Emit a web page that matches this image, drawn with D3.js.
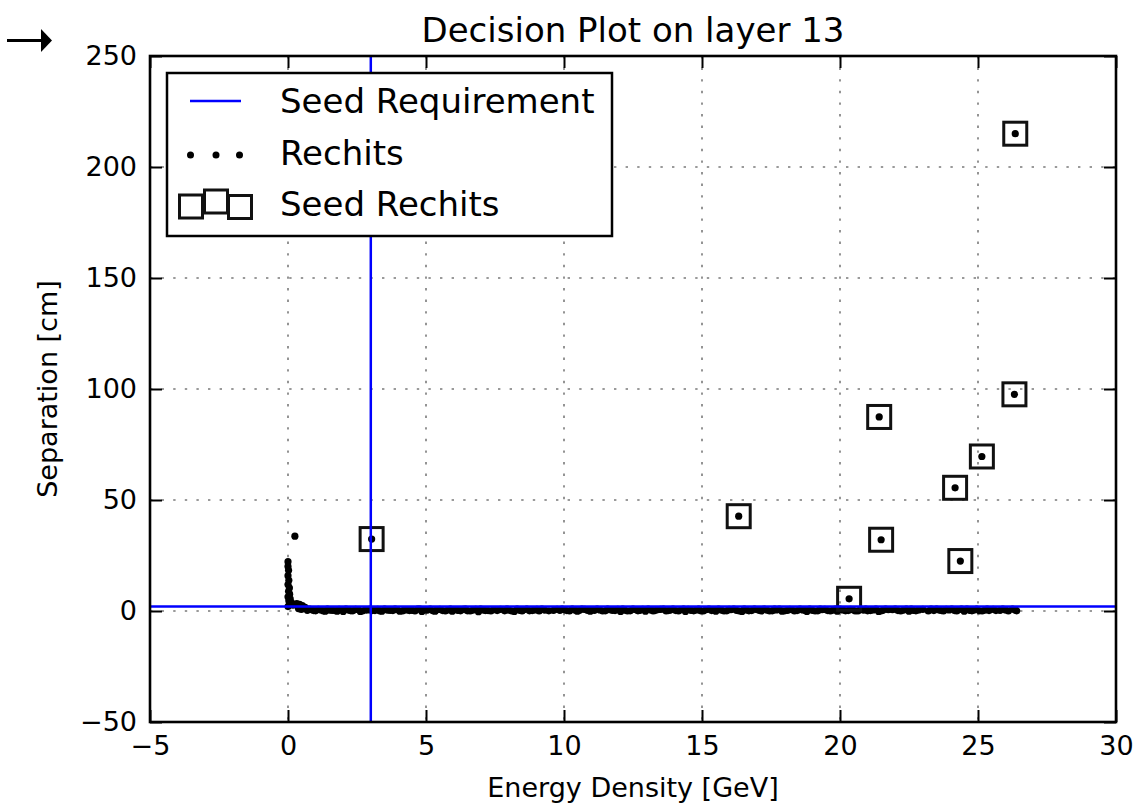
<!DOCTYPE html>
<html><head><meta charset="utf-8">
<script src="https://cdn.jsdelivr.net/npm/d3@7"></script>
<style>body{margin:0;background:#fff} svg{display:block} text{font-family:"DejaVu Sans",sans-serif;fill:#000}</style>
</head><body><svg id="c" width="1141" height="805"></svg>
<script>
// ---- data ----
const xTicks = [-5, 0, 5, 10, 15, 20, 25, 30];
const yTicks = [-50, 0, 50, 100, 150, 200, 250];
const seedThresholdX = 3;     // vertical "Seed Requirement"
const seedThresholdY = 2;     // horizontal "Seed Requirement"
const seedX = [3.03, 16.33, 20.33, 21.42, 21.49, 24.17, 24.36, 25.14, 26.32, 26.35];
const seedY = [32.4, 42.7, 5.5, 87.4, 32.1, 55.5, 22.5, 69.6, 97.6, 215.0];
const rechitX = [0.0,0.0,0.02,0.0,0.03,0.0,0.05,0.02,0.06,0.0,0.08,0.03,0.12,0.05,0.18,0.0,0.25,0.32,0.42,0.52,0.62,0.38,0.48,
 0.7,0.85,1.0,1.2,1.35,1.5,1.7,1.85,2.0,2.2,2.35,2.55,2.7,2.9,3.05,3.25,3.4,3.6,3.8,3.95,4.15,4.3,4.5,4.7,4.85,5.05,5.25,5.4,5.6,5.8,5.95,
 6.15,6.35,6.5,6.7,6.9,7.05,7.25,7.45,7.85,8.0,8.2,8.4,8.55,8.75,8.95,9.1,9.3,9.85,10.0,10.2,10.4,10.55,10.75,10.95,11.1,11.3,11.5,11.65,
 11.85,12.05,12.2,12.4,12.6,12.75,12.95,13.15,13.3,13.5,13.7,13.85,14.05,14.25,14.4,14.6,14.8,14.95,15.15,15.35,15.5,15.7,15.9,16.05,16.25,
 16.45,16.6,16.8,17.0,17.15,17.35,17.55,17.7,17.9,18.1,18.25,18.45,18.65,18.8,19.0,19.2,19.35,19.55,19.75,19.9,20.1,20.3,20.45,20.65,20.85,
 21.0,21.2,21.4,21.55,21.75,22.1,22.3,22.5,22.65,22.85,23.4,23.6,23.75,23.95,24.15,24.3,24.5,24.7,24.85,25.05,25.25,25.4,25.8,26.0,26.4,
 0.78,0.93,1.1,1.28,1.43,1.6,1.78,1.93,2.1,2.28,
 2.45,2.62,2.8,2.98,3.15,3.33,3.5,3.7,3.88,4.05,
 4.22,4.4,4.6,4.78,4.95,5.15,5.33,5.5,5.7,5.88,
 6.05,6.25,6.43,6.6,6.8,6.98,7.15,7.35,7.7,7.93,
 8.1,8.3,8.48,8.65,8.85,9.02,9.2,9.45,9.93,10.1,
 10.3,10.48,10.65,10.85,11.02,11.2,11.4,11.58,11.75,11.95,
 12.13,12.3,12.5,12.68,12.85,13.05,13.23,13.4,13.6,13.78,
 13.95,14.15,14.33,14.5,14.7,14.88,15.05,15.25,15.43,15.6,
 15.8,15.98,16.15,16.35,16.53,16.7,16.9,17.08,17.25,17.45,
 17.63,17.8,18.0,18.18,18.35,18.55,18.73,18.9,19.1,19.28,
 19.45,19.65,19.83,20.0,20.2,20.38,20.55,20.75,20.93,21.1,
 21.3,21.48,21.65,21.9,22.0,22.2,22.4,22.58,22.75,23.0,
 23.2,23.3,23.5,23.68,23.85,24.05,24.23,24.4,24.6,24.78,
 24.95,25.15,25.33,25.55,25.65,25.9,26.1,26.25,26.35,9.62,9.75,7.58];
const rechitY = [22.2,20.1,18.3,15.9,13.8,11.9,10.4,8.9,7.6,6.4,5.5,4.6,3.9,3.1,2.6,2.0,33.7,3.3,3.0,2.4,1.6,1.1,0.7,
 0.3,0.6,0.1,0.5,-0.1,0.4,0.2,0.7,-0.2,0.4,0.1,0.6,0.0,0.5,0.2,0.7,-0.1,0.4,0.2,0.6,0.0,0.5,0.3,0.8,-0.2,0.4,0.1,0.6,0.2,0.5,-0.1,
 0.3,0.7,0.1,0.4,-0.3,0.5,0.2,0.6,0.1,0.4,-0.2,0.3,0.6,0.1,0.5,0.0,0.4,0.3,0.6,0.0,0.4,0.2,0.7,-0.1,0.3,0.5,0.1,0.6,
 0.2,-0.2,0.4,0.1,0.6,0.3,-0.1,0.5,0.2,0.7,0.0,0.4,0.2,0.6,-0.2,0.3,0.5,0.1,0.6,0.2,-0.1,0.4,0.1,0.6,0.3,
 -0.2,0.5,0.2,0.6,0.0,0.4,0.1,0.5,-0.1,0.3,0.6,0.2,0.5,-0.2,0.3,0.1,0.6,0.2,0.4,-0.1,0.5,0.2,0.6,0.0,0.4,
 0.1,0.5,-0.2,0.3,0.6,0.2,0.4,-0.1,0.3,0.5,0.2,0.4,0.0,0.5,0.2,0.6,-0.1,0.3,0.5,0.1,0.4,0.2,0.3,0.5,0.1,
 0.9,0.2,0.7,0.0,0.8,0.3,-0.1,0.6,0.9,0.1,
 0.7,-0.2,0.5,0.9,0.2,0.0,0.8,0.3,0.9,-0.1,
 0.6,0.2,0.0,0.9,0.5,0.8,-0.1,0.7,0.0,0.9,
 0.6,0.1,0.9,0.0,0.7,0.8,0.2,0.0,0.7,0.9,
 0.1,0.8,0.0,0.9,0.2,0.7,0.9,0.1,0.8,0.2,
 0.9,-0.1,0.8,0.3,0.6,0.9,0.0,0.8,0.3,0.7,
 0.9,0.0,0.8,0.1,0.7,0.9,0.0,0.6,0.9,0.2,
 0.8,0.0,0.9,0.7,0.1,0.9,0.0,0.8,0.6,0.9,
 0.0,0.7,0.9,0.0,0.8,0.1,0.9,0.3,0.8,0.0,
 0.8,0.9,0.1,0.7,0.0,0.9,0.3,0.8,0.0,0.9,
 0.7,0.0,0.8,0.9,0.1,0.7,0.0,0.9,0.8,0.2,
 0.9,0.0,0.8,0.6,0.9,0.0,0.8,0.9,0.1,0.7,
 0.0,0.8,0.9,0.2,0.7,0.9,0.0,0.8,0.9,0.1,
 0.8,0.0,0.9,0.7,0.2,0.9,0.0,0.8,0.5,0.3,0.7,0.2];
const legendLabels = ["Seed Requirement", "Rechits", "Seed Rechits"];

// ---- layout ----
const svg = d3.select("#c");
const L = 150, R = 1116, T = 56, B = 722;
const x = d3.scaleLinear().domain([-5, 30]).range([L, R]);
const y = d3.scaleLinear().domain([-50, 250]).range([B, T]);

// grid
const grid = svg.append("g").attr("stroke", "#7a7a7a").attr("stroke-width", 1.6)
  .attr("stroke-dasharray", "2.4,9.2");
grid.selectAll(".gx").data(xTicks.slice(1, -1)).join("line")
  .attr("x1", d => x(d)).attr("x2", d => x(d)).attr("y1", T).attr("y2", B);
grid.selectAll(".gy").data(yTicks.slice(1, -1)).join("line")
  .attr("y1", d => y(d)).attr("y2", d => y(d)).attr("x1", L).attr("x2", R);

// rechits (including the seed hits themselves)
const allX = rechitX.concat(seedX), allY = rechitY.concat(seedY);
svg.append("g").selectAll("circle").data(allX).join("circle")
  .attr("cx", d => x(d)).attr("cy", (d, i) => y(allY[i])).attr("r", 3.6).attr("fill", "#000");

// seed squares
const sq = 23;
svg.append("g").selectAll("rect").data(seedX).join("rect")
  .attr("x", d => x(d) - sq / 2).attr("y", (d, i) => y(seedY[i]) - sq / 2)
  .attr("width", sq).attr("height", sq).attr("fill", "none").attr("stroke", "#111").attr("stroke-width", 3);

// seed requirement lines
svg.append("line").attr("x1", x(seedThresholdX)).attr("x2", x(seedThresholdX)).attr("y1", T).attr("y2", B)
  .attr("stroke", "#0000ff").attr("stroke-width", 2.5);
svg.append("line").attr("y1", y(seedThresholdY)).attr("y2", y(seedThresholdY)).attr("x1", L).attr("x2", R)
  .attr("stroke", "#0000ff").attr("stroke-width", 2.5);

// axes (ticks inside, on all sides)
const fmt = d3.format("d");
function styleAxis(g) {
  g.select(".domain").remove();
  g.selectAll(".tick line").attr("stroke", "#000").attr("stroke-width", 2);
  g.selectAll(".tick text").attr("font-size", 27).attr("font-family", "DejaVu Sans").attr("fill", "#000");
}
svg.append("g").attr("transform", `translate(0,${B})`)
  .call(d3.axisBottom(x).tickValues(xTicks).tickFormat(fmt).tickSize(-12).tickPadding(14)).call(styleAxis);
svg.append("g").attr("transform", `translate(0,${T})`)
  .call(d3.axisTop(x).tickValues(xTicks).tickFormat("").tickSize(-12)).call(styleAxis);
svg.append("g").attr("transform", `translate(${L},0)`)
  .call(d3.axisLeft(y).tickValues(yTicks).tickFormat(fmt).tickSize(-12).tickPadding(13)).call(styleAxis);
svg.append("g").attr("transform", `translate(${R},0)`)
  .call(d3.axisRight(y).tickValues(yTicks).tickFormat("").tickSize(-12)).call(styleAxis);

// spines
svg.append("rect").attr("x", L).attr("y", T).attr("width", R - L).attr("height", B - T)
  .attr("fill", "none").attr("stroke", "#000").attr("stroke-width", 2.6);

// labels
svg.append("text").attr("x", (L + R) / 2).attr("y", 42).attr("text-anchor", "middle")
  .attr("font-size", 34).text("Decision Plot on layer 13");
svg.append("text").attr("x", (L + R) / 2).attr("y", 797).attr("text-anchor", "middle")
  .attr("font-size", 27).text("Energy Density [GeV]");
svg.append("text").attr("transform", `translate(57,${(T + B) / 2}) rotate(-90)`).attr("text-anchor", "middle")
  .attr("font-size", 27).text("Separation [cm]");

// arrow at top-left
svg.append("line").attr("x1", 7).attr("x2", 44).attr("y1", 40.5).attr("y2", 40.5).attr("stroke", "#000").attr("stroke-width", 3);
svg.append("path").attr("d", "M52,40.5 L41,29 L41,52 Z").attr("fill", "#000");

// legend
const lg = svg.append("g");
lg.append("rect").attr("x", 167).attr("y", 73).attr("width", 445).attr("height", 163)
  .attr("fill", "#fff").attr("stroke", "#000").attr("stroke-width", 2.5);
lg.append("line").attr("x1", 190).attr("x2", 241).attr("y1", 101).attr("y2", 101)
  .attr("stroke", "#0000ff").attr("stroke-width", 2.5);
[190.5, 216, 239.5].forEach(cx => lg.append("circle").attr("cx", cx).attr("cy", 155).attr("r", 3.5).attr("fill", "#000"));
[[191, 206.5], [216, 201.5], [240, 207]].forEach(([cx, cy]) =>
  lg.append("rect").attr("x", cx - 11.5).attr("y", cy - 11.5).attr("width", 23).attr("height", 23)
    .attr("fill", "#fff").attr("stroke", "#111").attr("stroke-width", 3));
legendLabels.forEach((t, i) =>
  lg.append("text").attr("x", 280).attr("y", 113 + i * 51.5).attr("font-size", 34).text(t));
</script>
</body></html>
